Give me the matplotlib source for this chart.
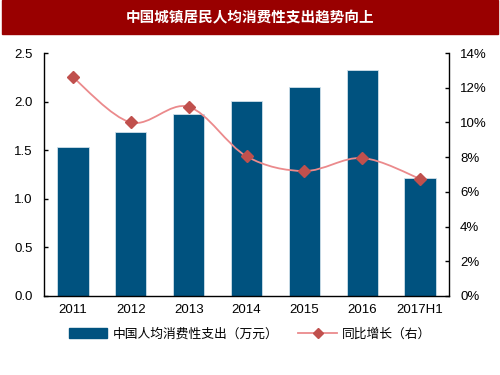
import matplotlib
matplotlib.use("Agg")
import matplotlib.pyplot as plt
from matplotlib.path import Path
from matplotlib.patches import PathPatch, Rectangle
from matplotlib.lines import Line2D
from matplotlib.ticker import FuncFormatter
import numpy as np

plt.rcParams['font.family'] = ['Liberation Sans', 'Noto Sans CJK SC', 'DejaVu Sans']

categories = ["2011", "2012", "2013", "2014", "2015", "2016", "2017H1"]
spending = [1.53, 1.69, 1.87, 2.01, 2.15, 2.32, 1.21]
growth = [12.6, 10.0, 10.9, 8.05, 7.2, 7.95, 6.75]
title = "中国城镇居民人均消费性支出趋势向上"
bar_label = "中国人均消费性支出（万元）"
line_label = "同比增长（右）"

bar_color = "#00527f"
line_color = "#eb8a8c"
marker_color = "#c0504d"

fig = plt.figure(figsize=(5, 3.75), dpi=100)
# title banner
fig.patches.append(Rectangle((0.004, 1 - 34/375), 0.992, 34/375, transform=fig.transFigure,
                             color="#990000", zorder=0))
fig.text(0.5, 1 - 17/375, title, color="white", ha="center", va="center",
         fontsize=10.5, fontweight="bold", family=['Noto Sans CJK SC'])

ax = fig.add_axes([44/500, 1 - 296/375, 405/500, 243/375])
x = np.arange(len(categories))
ax.bar(x, spending, width=0.54, color=bar_color, edgecolor="#cfe0ea", linewidth=0.6, zorder=2)
ax.set_xlim(-0.5, len(categories) - 0.5)
ax.set_ylim(0, 2.5)
ax.set_yticks(np.arange(0, 2.51, 0.5))
ax.yaxis.set_major_formatter(FuncFormatter(lambda v, p: f"{v:.1f}"))
ax.set_xticks(x)
ax.set_xticklabels(categories)
ax.tick_params(axis='x', length=0, labelsize=9.5, pad=6)
ax.tick_params(axis='y', direction='in', length=3, width=1, labelsize=9.5, pad=8)
for s in ['top', 'right']:
    ax.spines[s].set_visible(False)
ax.spines['left'].set_linewidth(1)
ax.spines['bottom'].set_linewidth(1)

ax2 = ax.twinx()
ax2.set_ylim(0, 14)
ax2.set_yticks(np.arange(0, 14.1, 2))
ax2.yaxis.set_major_formatter(FuncFormatter(lambda v, p: f"{v:.0f}%"))
ax2.tick_params(axis='y', direction='in', length=3, width=1, labelsize=9.5, pad=8)
for s in ['top', 'left', 'bottom']:
    ax2.spines[s].set_visible(False)
ax2.spines['right'].set_linewidth(1)

# smooth line (Catmull-Rom through data points) as Bezier path
xs = x.astype(float)
ys = np.array(growth, dtype=float)
verts = [(xs[0], ys[0])]
codes = [Path.MOVETO]
n = len(xs)
for i in range(n - 1):
    p0 = (xs[max(i - 1, 0)], ys[max(i - 1, 0)])
    p1 = (xs[i], ys[i])
    p2 = (xs[i + 1], ys[i + 1])
    p3 = (xs[min(i + 2, n - 1)], ys[min(i + 2, n - 1)])
    t = 1 / 6
    c1 = (p1[0] + (p2[0] - p0[0]) * t, p1[1] + (p2[1] - p0[1]) * t)
    c2 = (p2[0] - (p3[0] - p1[0]) * t, p2[1] - (p3[1] - p1[1]) * t)
    verts += [c1, c2, p2]
    codes += [Path.CURVE4] * 3
ax2.add_patch(PathPatch(Path(verts, codes), facecolor="none", edgecolor=line_color,
                        linewidth=1.3, zorder=3))
ax2.plot(xs, ys, linestyle="none", marker="D", markersize=6, color=marker_color, zorder=4)

handles = [Rectangle((0, 0), 1, 1, color=bar_color),
           Line2D([0], [0], color=line_color, lw=1.3, marker="D", markersize=5,
                  markerfacecolor=marker_color, markeredgecolor=marker_color)]
fig.legend(handles, [bar_label, line_label], loc="center", bbox_to_anchor=(0.5, 1 - 334/375),
           ncol=2, frameon=False, handlelength=3.0, handleheight=0.8, columnspacing=1.6,
           handletextpad=0.4, borderpad=0,
           prop={'family': ['Noto Sans CJK SC'], 'size': 9.2})

fig.savefig("out.png", dpi=100)
